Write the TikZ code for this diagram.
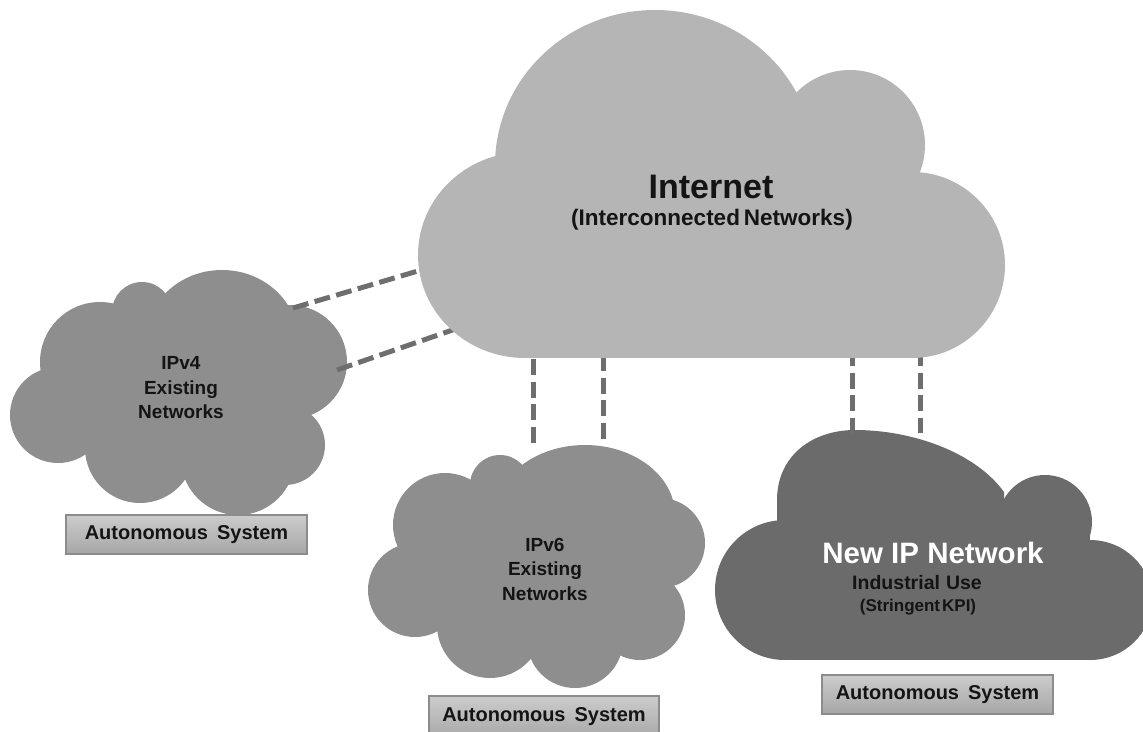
\documentclass[tikz,border=0pt]{standalone}
\usepackage{fontspec}
\setmainfont{Liberation Sans}

\definecolor{netgray}{RGB}{181,181,181}
\definecolor{oldgray}{RGB}{142,142,142}
\definecolor{newgray}{RGB}{107,107,107}
\definecolor{dashgray}{RGB}{110,110,110}
\definecolor{boxtop}{RGB}{204,204,204}
\definecolor{boxbot}{RGB}{166,166,166}
\definecolor{boxedge}{RGB}{140,140,140}
\definecolor{ink}{RGB}{20,20,20}

\tikzset{
  link/.style={draw=dashgray, line width=5pt, dash pattern=on 16pt off 6.5pt},
  asbox/.style={draw=boxedge, line width=1.2pt, top color=boxtop, bottom color=boxbot,
    inner sep=0pt, outer sep=0pt, text=ink,
    font=\fontsize{20}{23}\selectfont\bfseries},
  txt/.style={align=center, inner sep=0pt, text=ink},
}

\begin{document}
\begin{tikzpicture}[x=1pt, y=-1pt]
  \useasboundingbox (0,0) rectangle (1143,731);
  \clip (0,0) rectangle (1143,731);

  % ---- IPv4 cloud (union of puffs)
  \begin{scope}[fill=oldgray]
    \fill (185,400) ellipse[x radius=120, y radius=75];
    \fill (100,362) circle[radius=60];
    \fill (142,312) circle[radius=30];
    \fill (222,340) ellipse[x radius=76, y radius=70];
    \fill (290,362) circle[radius=57];
    \fill (285,445) circle[radius=40];
    \fill (238,458) circle[radius=57];
    \fill (140,448) circle[radius=55];
    \fill (58,415) circle[radius=48];
  \end{scope}
  \coordinate (v4) at (180,400);

  % ---- IPv6 cloud
  \begin{scope}[fill=oldgray]
    \fill (540,565) ellipse[x radius=120, y radius=70];
    \fill (445,525) circle[radius=52];
    \fill (500,485) circle[radius=30];
    \fill (585,515) ellipse[x radius=90, y radius=70];
    \fill (660,543) circle[radius=45];
    \fill (640,615) circle[radius=45];
    \fill (575,640) circle[radius=48];
    \fill (490,625) circle[radius=53];
    \fill (415,590) circle[radius=47];
  \end{scope}
  \coordinate (v6) at (545,570);

  % ---- New IP cloud (flat bottom)
  \begin{scope}[fill=newgray]
    \fill (785,590) circle[radius=70];
    \fill (777,545) -- (777,500) .. controls (777,456) and (812,430) .. (855,430)
          .. controls (912,430) and (975,452) .. (1004,492) -- (1004,600) -- (777,600) -- cycle;
    \fill (1045,522) circle[radius=47];
    \fill (1090,600) ellipse[x radius=62, y radius=60];
    \fill (785,528) rectangle (1090,660);
  \end{scope}
  \coordinate (nip) at (930,560);

  % ---- connector end points
  \coordinate (v4a) at (293,308);
  \coordinate (v4b) at (337,370);
  \coordinate (v6a) at (533,442.5);
  \coordinate (v6b) at (603,438.5);
  \coordinate (nipa) at (852,434);
  \coordinate (nipb) at (920,433);
  \coordinate (ina) at (428,268);
  \coordinate (inb) at (464,326);
  \coordinate (inc) at (533,359);
  \coordinate (ind) at (603,355);
  \coordinate (ine) at (852,350);
  \coordinate (inf) at (920,350);

  % ---- dashed links
  \draw[link] (v4a) -- (ina);
  \draw[link] (v4b) -- (inb);
  \draw[link] (inc) -- (v6a);
  \draw[link] (ind) -- (v6b);
  \draw[link] (ine) -- (nipa);
  \draw[link] (inf) -- (nipb);

  % ---- Internet cloud
  \begin{scope}[fill=netgray]
    \fill (655,165) ellipse[x radius=160, y radius=155];
    \fill (850,145) circle[radius=75];
    \fill (912,265) ellipse[x radius=93, y radius=93];
    \fill (525,255) ellipse[x radius=107, y radius=103];
    \fill (525,160) rectangle (912,358);
  \end{scope}

  % ---- labels
  \node[txt, font=\fontsize{34}{38}\selectfont\bfseries] (inttitle) at (711,187) {Internet};
  \node[txt, font=\fontsize{22.5}{25}\selectfont\bfseries] (intsub) at (712,220) {(Interconnected\hspace{4pt}Networks)};

  \node[txt, font=\fontsize{19}{24.5}\selectfont\bfseries] (v4text) at (181,388) {IPv4\\Existing\\Networks};
  \node[txt, font=\fontsize{19}{24.5}\selectfont\bfseries] (v6text) at (545,569) {IPv6\\Existing\\Networks};

  \node[txt, text=white, font=\fontsize{29.5}{33}\selectfont\bfseries] (niptitle) at (933,553) {New IP Network};
  \node[txt, font=\fontsize{19.5}{22}\selectfont\bfseries] (nipuse) at (917,583) {Industrial\hspace{6pt}Use};
  \node[txt, font=\fontsize{17}{19}\selectfont\bfseries] (nipkpi) at (918,607) {(Stringent\hspace{2pt}KPI)};

  % ---- Autonomous System tags
  \node[asbox, minimum width=241pt, minimum height=39pt] (as4) at (186.5,534.5) {Autonomous\hspace{9pt}System};
  \node[asbox, minimum width=230pt, minimum height=44pt] (as6) at (544,718) {};
  \node[txt, font=\fontsize{20}{23}\selectfont\bfseries] (as6text) at (544,716.5) {Autonomous\hspace{9pt}System};
  \node[asbox, minimum width=231pt, minimum height=39pt] (asn) at (937.5,694.5) {Autonomous\hspace{9pt}System};
\end{tikzpicture}
\end{document}
